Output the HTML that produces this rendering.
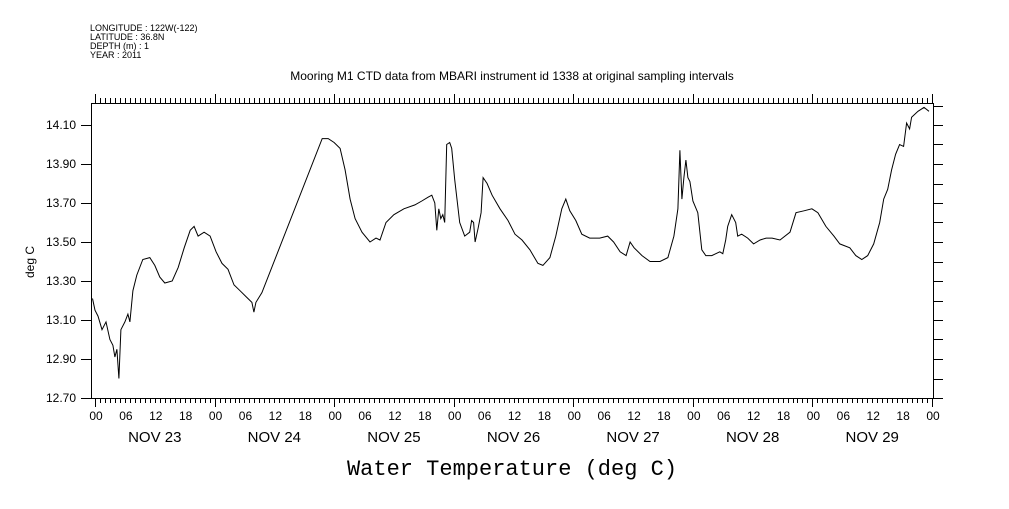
<!DOCTYPE html>
<html><head><meta charset="utf-8"><style>
body{margin:0;background:#fff}
svg text{font-family:"Liberation Sans",sans-serif;fill:#000}
</style></head><body>
<svg id="chart" width="1009" height="504" xmlns="http://www.w3.org/2000/svg">
<g font-size="9">
<text x="90" y="31">LONGITUDE : 122W(-122)</text>
<text x="90" y="40">LATITUDE : 36.8N</text>
<text x="90" y="49">DEPTH (m) : 1</text>
<text x="90" y="58">YEAR : 2011</text>
</g>
<text x="512" y="80" text-anchor="middle" font-size="12">Mooring M1 CTD data from MBARI instrument id 1338 at original sampling intervals</text>
<text x="512" y="475" text-anchor="middle" font-size="22" style="font-family:'Liberation Mono',monospace">Water Temperature (deg C)</text>
<text transform="translate(34,262) rotate(-90)" text-anchor="middle" font-size="12">deg C</text>
<g id="axes"></g>
<g id="series"></g>
</svg>
<script>
const hours=[-0.5,0,0.6,1.4,2.2,3.0,3.6,4.0,4.4,4.8,5.2,6.0,6.6,7.0,7.6,8.4,9.6,11.0,12.0,13.0,14.0,15.5,16.7,17.9,19.1,19.9,20.7,21.9,23.1,24.3,25.5,26.7,27.9,29.1,30.3,31.5,31.9,32.3,33.5,45.6,46.8,48.0,49.2,50.2,51.2,52.2,53.6,55.2,56.4,57.2,58.4,60.0,62.0,64.2,65.6,66.9,67.6,68.2,68.6,69.0,69.4,69.8,70.2,70.6,71.2,71.6,72.2,73.2,74.2,75.2,75.6,76.0,76.3,76.9,77.5,77.9,78.7,79.7,81.3,82.9,84.3,85.7,87.3,88.9,89.9,91.3,92.5,93.7,94.5,95.3,96.5,97.7,99.3,101.3,102.9,104.1,105.4,106.6,107.4,108.2,109.8,111.4,113.4,115.0,116.2,117.0,117.4,117.8,118.2,118.6,119.0,119.4,120.0,121.0,121.8,122.6,123.8,124.6,125.4,126.0,126.6,127.0,127.8,128.6,129.0,129.8,131.0,132.2,133.5,134.7,135.9,137.5,139.5,140.7,142.3,143.9,145.1,146.7,148.3,149.5,151.5,152.7,153.9,155.1,156.3,157.5,158.3,159.1,159.9,160.7,161.5,162.3,162.9,163.5,163.9,165.2,166.4,167.4];
const temps=[13.21,13.15,13.12,13.05,13.09,13.00,12.97,12.91,12.95,12.80,13.05,13.09,13.13,13.09,13.25,13.33,13.41,13.42,13.38,13.32,13.29,13.30,13.37,13.47,13.56,13.58,13.53,13.55,13.53,13.45,13.39,13.36,13.28,13.25,13.22,13.19,13.14,13.19,13.24,14.03,14.03,14.01,13.98,13.87,13.72,13.62,13.55,13.50,13.52,13.51,13.60,13.64,13.67,13.69,13.71,13.73,13.74,13.70,13.56,13.67,13.62,13.64,13.60,14.00,14.01,13.98,13.82,13.60,13.53,13.55,13.61,13.60,13.50,13.57,13.65,13.83,13.80,13.74,13.67,13.61,13.54,13.51,13.46,13.39,13.38,13.42,13.53,13.67,13.72,13.66,13.61,13.54,13.52,13.52,13.53,13.50,13.45,13.43,13.50,13.47,13.43,13.40,13.40,13.42,13.53,13.67,13.97,13.72,13.83,13.92,13.83,13.81,13.71,13.65,13.46,13.43,13.43,13.44,13.45,13.44,13.51,13.58,13.64,13.60,13.53,13.54,13.52,13.49,13.51,13.52,13.52,13.51,13.55,13.65,13.66,13.67,13.65,13.58,13.53,13.49,13.47,13.43,13.41,13.43,13.49,13.60,13.72,13.77,13.87,13.95,14.00,13.99,14.11,14.08,14.14,14.17,14.19,14.17];
const yTickLabels=["12.70","12.90","13.10","13.30","13.50","13.70","13.90","14.10"];
const hourLabels=["00","06","12","18"];
const dayLabels=["NOV 23","NOV 24","NOV 25","NOV 26","NOV 27","NOV 28","NOV 29"];
const NS="http://www.w3.org/2000/svg";
const L=91,R=933,T=103,B=398;
const xs=h=>95+h*(837/168);
const ys=v=>398-(v-12.70)*195;
function mk(tag,attrs,parent){const e=document.createElementNS(NS,tag);for(const k in attrs)e.setAttribute(k,attrs[k]);parent.appendChild(e);return e;}
const ax=document.getElementById('axes');
const frame=mk('rect',{x:L+0.5,y:T+0.5,width:R-L,height:B-T,fill:'none',stroke:'#000','stroke-width':1},ax);


let d='';
for(let h=-1;h<=168;h++){const x=Math.round(xs(h))+0.5;if(x<L||x>R)continue;const big=h%24===0;
 d+=`M${x},${B}v${big?9:5}M${x},${T}v${big?-9:-5}`;}
for(let i=0;i<=15;i++){const v=12.70+i*0.1;const y=Math.round(ys(v))+0.5;d+=`M${R},${y}h10`;if(i%2===0)d+=`M${L},${y}h-10`;}
const tk=mk('path',{d:d,stroke:'#000','stroke-width':1,fill:'none'},ax);


yTickLabels.forEach((s,i)=>{const t=mk('text',{x:76,y:ys(parseFloat(s))+4,'text-anchor':'end','font-size':12},ax);t.textContent=s;
 
 });
for(let h=0;h<=168;h+=6){const t=mk('text',{x:xs(h)+1,y:420,'text-anchor':'middle','font-size':12},ax);t.textContent=hourLabels[(h/6)%4];
 
 }
dayLabels.forEach((s,i)=>{const t=mk('text',{x:xs(i*24+12),y:442,'text-anchor':'middle','font-size':15},ax);t.textContent=s;
 
 });
const pts=hours.map((h,i)=>xs(h).toFixed(1)+','+ys(temps[i]).toFixed(1)).join(' ');
const line=mk('polyline',{points:pts,fill:'none',stroke:'#000','stroke-width':1},document.getElementById('series'));


</script>
</body></html>
